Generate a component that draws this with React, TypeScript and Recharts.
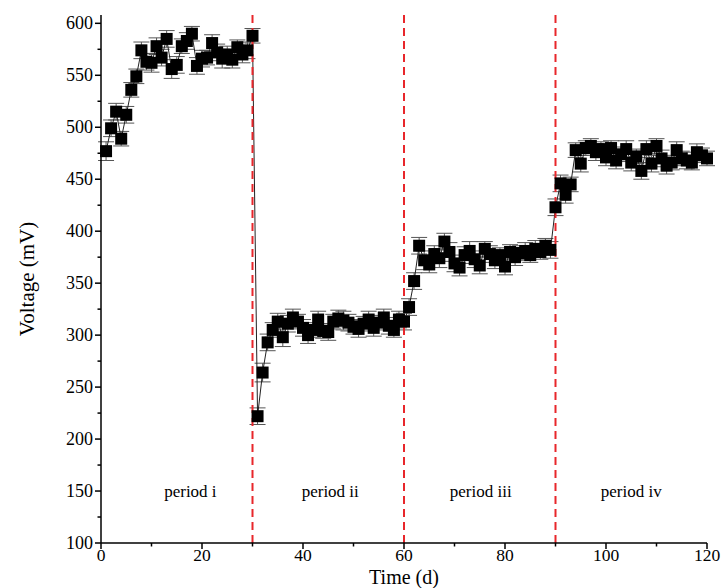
import React from "react";
import { LineChart, Line, XAxis, YAxis, ErrorBar, ReferenceLine, ReferenceDot } from "recharts";

// days sampled, one reading per day
const daysI = [1, 2, 3, 4, 5, 6, 7, 8, 9, 10, 11, 12, 13, 14, 15, 16, 17, 18, 19, 20, 21, 22, 23, 24, 25, 26, 27, 28, 29, 30];
const daysII = [31, 32, 33, 34, 35, 36, 37, 38, 39, 40, 41, 42, 43, 44, 45, 46, 47, 48, 49, 50, 51, 52, 53, 54, 55, 56, 57, 58, 59, 60];
const daysIII = [61, 62, 63, 64, 65, 66, 67, 68, 69, 70, 71, 72, 73, 74, 75, 76, 77, 78, 79, 80, 81, 82, 83, 84, 85, 86, 87, 88, 89];
const daysIV = [90, 91, 92, 93, 94, 95, 96, 97, 98, 99, 100, 101, 102, 103, 104, 105, 106, 107, 108, 109, 110, 111, 112, 113, 114, 115, 116, 117, 118, 119, 120];

// voltage (mV)
const voltI = [477, 499, 515, 489, 512, 536, 549, 574, 563, 562, 578, 567, 585, 556, 560, 578, 583, 590, 559, 566, 567, 581, 572, 566, 570, 565, 577, 570, 574, 588];
const voltII = [222, 264, 293, 305, 313, 298, 311, 317, 313, 307, 300, 305, 315, 304, 303, 313, 316, 314, 312, 308, 306, 311, 315, 307, 312, 317, 309, 305, 315, 313];
const voltIII = [327, 352, 386, 372, 368, 378, 374, 390, 380, 369, 365, 377, 381, 373, 367, 383, 378, 372, 377, 366, 380, 375, 379, 381, 377, 383, 380, 386, 382];
const voltIV = [423, 446, 435, 445, 478, 465, 480, 482, 476, 479, 471, 480, 468, 474, 479, 466, 472, 458, 479, 465, 482, 470, 463, 466, 478, 470, 468, 466, 476, 473, 470];

// error bar half-widths (mV)
const errI = [9, 8, 8, 7, 8, 7, 7, 8, 8, 9, 8, 8, 8, 9, 8, 7, 8, 7, 8, 8, 7, 8, 8, 9, 8, 8, 7, 8, 8, 7];
const errII = [8, 9, 8, 7, 8, 9, 8, 8, 7, 8, 8, 7, 8, 7, 8, 7, 8, 9, 8, 7, 8, 7, 8, 8, 7, 8, 8, 7, 8, 8];
const errIII = [8, 8, 8, 9, 8, 8, 9, 8, 9, 8, 8, 8, 9, 8, 8, 7, 8, 8, 7, 8, 7, 8, 7, 8, 7, 8, 7, 7, 8];
const errIV = [8, 8, 8, 7, 7, 8, 7, 7, 8, 7, 8, 7, 8, 7, 8, 8, 7, 8, 8, 8, 7, 8, 8, 7, 8, 7, 8, 7, 8, 7, 7];

const periodBounds = [30, 60, 90];
const periodLabels = ["period i", "period ii", "period iii", "period iv"];
const periodLabelX = [17.7, 45.4, 75.2, 105];
const periodLabelY = 150;

const xTicks = [0, 10, 20, 30, 40, 50, 60, 70, 80, 90, 100, 110, 120];
const yTicks = [100, 125, 150, 175, 200, 225, 250, 275, 300, 325, 350, 375, 400, 425, 450, 475, 500, 525, 550, 575, 600];

const days = [...daysI, ...daysII, ...daysIII, ...daysIV];
const volts = [...voltI, ...voltII, ...voltIII, ...voltIV];
const errs = [...errI, ...errII, ...errIII, ...errIV];
const data = days.map((d, i) => ({ day: d, v: volts[i], err: errs[i] }));

const FONT = "'Liberation Serif', 'Times New Roman', serif";
const txt = { fontFamily: FONT, fill: "#000" };

const XTick = (p: any) => {
  const v = p.payload.value;
  const major = v % 20 === 0;
  const axisY = p.y - 8;
  return (
    <g>
      <line x1={p.x} x2={p.x} y1={axisY} y2={axisY + (major ? 6 : 3.5)} stroke="#000" strokeWidth={1.5} />
      {major && (
        <text x={p.x} y={p.y + 10} textAnchor="middle" style={{ ...txt, fontSize: 17.5 }}>
          {v}
        </text>
      )}
    </g>
  );
};

const YTick = (p: any) => {
  const v = p.payload.value;
  const major = v % 50 === 0;
  const axisX = p.x + 8;
  return (
    <g>
      <line x1={axisX - (major ? 6 : 3.5)} x2={axisX} y1={p.y} y2={p.y} stroke="#000" strokeWidth={1.5} />
      {major && (
        <text x={p.x} y={p.y + 6} textAnchor="end" style={{ ...txt, fontSize: 18 }}>
          {v}
        </text>
      )}
    </g>
  );
};

const Square = (p: any) => (
  <rect key={p.index} x={p.cx - 6} y={p.cy - 6} width={12} height={12} fill="#000" />
);

export default function App() {
  return (
    <div style={{ position: "absolute", left: 0, top: 0, background: "#fff" }}>
      <LineChart width={721} height={588} data={data} margin={{ top: 15, right: 14, bottom: 0, left: 0 }}>
        <XAxis
          dataKey="day"
          type="number"
          domain={[0, 120]}
          ticks={xTicks}
          tick={XTick}
          tickLine={false}
          height={45}
          axisLine={{ stroke: "#000", strokeWidth: 1.5 }}
          label={{ value: "Time (d)", position: "insideBottom", offset: 4, style: { ...txt, fontSize: 20 } }}
        />
        <XAxis xAxisId="top" orientation="top" type="number" domain={[0, 120]} ticks={[]} tick={false} tickLine={false} height={0} axisLine={{ stroke: "#000", strokeWidth: 1.5 }} />
        <YAxis
          type="number"
          domain={[100, 608]}
          ticks={yTicks}
          tick={YTick}
          tickLine={false}
          width={101}
          axisLine={{ stroke: "#000", strokeWidth: 1.5 }}
          label={{ value: "Voltage (mV)", angle: -90, position: "insideLeft", offset: 27, style: { ...txt, fontSize: 21, textAnchor: "middle" } }}
        />
        <YAxis yAxisId="right" orientation="right" type="number" domain={[100, 608]} ticks={[]} tick={false} tickLine={false} width={0} axisLine={{ stroke: "#000", strokeWidth: 1.5 }} />
        <Line
          dataKey="v"
          type="linear"
          stroke="#222"
          strokeWidth={1}
          dot={Square}
          activeDot={false}
          isAnimationActive={false}
        >
          <ErrorBar dataKey="err" width={8} stroke="#555" strokeWidth={1} />
        </Line>
        {periodBounds.map((b) => (
          <ReferenceLine key={b} x={b} stroke="#e8262b" strokeWidth={2} strokeDasharray="8 5" />
        ))}
        {periodLabels.map((t, i) => (
          <ReferenceDot
            key={t}
            x={periodLabelX[i]}
            y={periodLabelY}
            r={0}
            fill="none"
            stroke="none"
            label={{ value: t, position: "center", style: { ...txt, fontSize: 17 } }}
          />
        ))}
      </LineChart>
    </div>
  );
}
